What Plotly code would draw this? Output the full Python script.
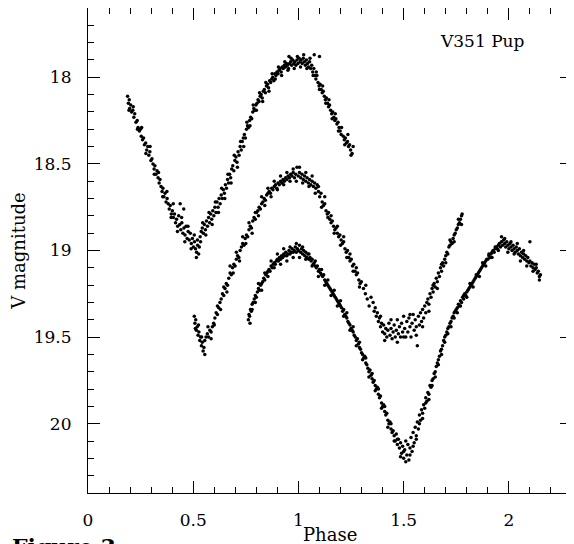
import plotly.graph_objects as go

# light curves of V351 Pup, three cycles shifted in phase and magnitude
phase_a = [0.188, 0.192, 0.196, 0.198, 0.203, 0.207, 0.213, 0.218, 0.222, 0.228, 0.234, 0.238,
           0.244, 0.249, 0.253, 0.259, 0.264, 0.268, 0.274, 0.279, 0.284, 0.289, 0.294, 0.299,
           0.304, 0.309, 0.314, 0.318, 0.323, 0.328, 0.333, 0.338, 0.342, 0.347, 0.352, 0.356,
           0.361, 0.366, 0.371, 0.376, 0.381, 0.386, 0.391, 0.396, 0.401, 0.406, 0.411, 0.416,
           0.421, 0.426, 0.431, 0.436, 0.441, 0.446, 0.451, 0.456, 0.461, 0.466, 0.471, 0.476,
           0.481, 0.486, 0.491, 0.496, 0.501, 0.506, 0.511, 0.516, 0.521, 0.526, 0.529,
           0.533, 0.538, 0.543, 0.548, 0.553, 0.558, 0.563, 0.568, 0.573, 0.578, 0.583, 0.588,
           0.593, 0.598, 0.603, 0.608, 0.613, 0.618, 0.623, 0.628, 0.633, 0.638, 0.643, 0.648,
           0.653, 0.658, 0.663, 0.668, 0.673, 0.678, 0.683, 0.688, 0.693, 0.698, 0.703, 0.708,
           0.713, 0.718, 0.723, 0.728, 0.733, 0.738, 0.743, 0.748, 0.753, 0.758, 0.763, 0.768,
           0.773, 0.778, 0.783, 0.788, 0.793, 0.798, 0.803, 0.808, 0.813, 0.818, 0.823, 0.828,
           0.833, 0.838, 0.843, 0.848, 0.853, 0.858, 0.863, 0.868, 0.873, 0.878, 0.883, 0.888,
           0.893, 0.898, 0.903, 0.908, 0.913, 0.918, 0.923, 0.928, 0.933, 0.938, 0.943, 0.948,
           0.953, 0.958, 0.963, 0.968, 0.973, 0.978, 0.983, 0.988, 0.993, 0.998, 1.003, 1.008,
           1.013, 1.018, 1.023, 1.028, 1.033, 1.038, 1.043, 1.048, 1.053, 1.058, 1.063, 1.068,
           1.073, 1.078, 1.083, 1.088, 1.093, 1.098, 1.103, 1.108, 1.113, 1.118, 1.123, 1.128,
           1.133, 1.138, 1.143, 1.148, 1.153, 1.158, 1.163, 1.168, 1.173, 1.178, 1.183, 1.188,
           1.193, 1.198, 1.203, 1.213, 1.218, 1.223, 1.228, 1.233, 1.238, 1.243, 1.248, 1.255,
           0.955, 1.075, 1.100, 0.455, 0.438]
mag_a = [18.11, 18.15, 18.13, 18.18, 18.16, 18.20, 18.19, 18.23, 18.21, 18.26, 18.25, 18.29,
         18.31, 18.30, 18.34, 18.36, 18.35, 18.39, 18.38, 18.42, 18.40, 18.45, 18.43, 18.48,
         18.47, 18.50, 18.53, 18.51, 18.56, 18.54, 18.58, 18.61, 18.59, 18.63, 18.66, 18.64,
         18.69, 18.67, 18.72, 18.70, 18.73, 18.76, 18.74, 18.79, 18.77, 18.81, 18.79, 18.84,
         18.82, 18.86, 18.80, 18.85, 18.88, 18.84, 18.90, 18.87, 18.91, 18.86, 18.93, 18.89,
         18.94, 18.90, 18.96, 18.93, 18.98, 18.95, 18.99, 19.01, 18.97, 19.02, 18.98,
         18.92, 18.89, 18.87, 18.90, 18.85, 18.88, 18.83, 18.86, 18.81, 18.84, 18.79, 18.82,
         18.77, 18.80, 18.75, 18.78, 18.72, 18.75, 18.70, 18.73, 18.68, 18.70, 18.65, 18.67,
         18.62, 18.64, 18.59, 18.61, 18.56, 18.58, 18.53, 18.51, 18.54, 18.48, 18.46, 18.49,
         18.43, 18.45, 18.40, 18.42, 18.37, 18.35, 18.33, 18.35, 18.30, 18.28, 18.29, 18.25,
         18.23, 18.24, 18.20, 18.18, 18.19, 18.16, 18.15, 18.13, 18.14, 18.11, 18.10, 18.12,
         18.08, 18.07, 18.09, 18.05, 18.04, 18.06, 18.02, 18.03, 18.01, 18.00, 18.02, 17.98,
         17.99, 17.97, 17.98, 17.96, 17.95, 17.97, 17.94, 17.95, 17.93, 17.94, 17.92, 17.93,
         17.95, 17.92, 17.91, 17.93, 17.90, 17.92, 17.91, 17.93, 17.90, 17.92, 17.89, 17.91,
         17.90, 17.92, 17.89, 17.91, 17.93, 17.90, 17.92, 17.94, 17.91, 17.95, 17.93, 17.97,
         17.95, 17.99, 18.01, 17.99, 18.03, 18.05, 18.04, 18.07, 18.09, 18.08, 18.11, 18.13,
         18.12, 18.15, 18.17, 18.16, 18.19, 18.21, 18.20, 18.23, 18.25, 18.24, 18.27, 18.26,
         18.29, 18.31, 18.33, 18.34, 18.36, 18.35, 18.38, 18.37, 18.40, 18.39, 18.42, 18.44,
         17.88, 17.87, 17.88, 18.76, 18.73]
# looser points scattered around the top curve
phase_a_spread = [0.195, 0.215, 0.235, 0.255, 0.275, 0.295, 0.315, 0.335, 0.355, 0.375, 0.395,
                  0.405, 0.425, 0.445, 0.460, 0.475, 0.490, 0.505, 0.515, 0.520, 0.535, 0.545,
                  0.560, 0.575, 0.590, 0.605, 0.620, 0.635, 0.650, 0.665, 0.680, 0.695, 0.710,
                  0.725, 0.740, 0.755, 0.770, 0.785, 0.800, 0.815, 0.830, 0.845, 0.860, 0.875,
                  0.890, 0.905, 0.920, 0.935, 0.950, 0.965, 0.980, 0.995, 1.010, 1.025, 1.040,
                  1.055, 1.070, 1.085, 1.100, 1.115, 1.130, 1.145, 1.160, 1.175, 1.190, 1.205,
                  1.220, 1.235, 1.250, 1.260]
mag_a_spread = [18.19, 18.17, 18.30, 18.29, 18.44, 18.40, 18.56, 18.55, 18.69, 18.66, 18.81,
                18.73, 18.89, 18.81, 18.95, 18.86, 18.99, 18.91, 19.04, 18.94, 18.95, 18.84,
                18.91, 18.78, 18.85, 18.72, 18.78, 18.64, 18.70, 18.56, 18.61, 18.45, 18.52,
                18.37, 18.40, 18.26, 18.28, 18.16, 18.19, 18.09, 18.14, 18.03, 18.08, 17.98,
                18.01, 17.94, 17.99, 17.91, 17.96, 17.89, 17.95, 17.88, 17.94, 17.87, 17.95,
                17.89, 17.99, 17.97, 18.07, 18.05, 18.15, 18.13, 18.24, 18.21, 18.31, 18.29,
                18.39, 18.33, 18.45, 18.40]

phase_b = [0.505, 0.508, 0.512, 0.515, 0.519, 0.523, 0.527, 0.531, 0.535, 0.539, 0.543, 0.547,
           0.551, 0.555, 0.561, 0.567, 0.573, 0.579, 0.585, 0.591, 0.597, 0.603, 0.609, 0.615,
           0.621, 0.627, 0.633, 0.639, 0.645, 0.651, 0.657, 0.663, 0.669, 0.675, 0.681, 0.687,
           0.693, 0.699, 0.705, 0.711, 0.717, 0.723, 0.729, 0.735, 0.741, 0.747, 0.753, 0.759,
           0.765, 0.771, 0.777, 0.783, 0.789, 0.795, 0.801, 0.807, 0.813, 0.819, 0.825, 0.831,
           0.837, 0.843, 0.849, 0.855, 0.861, 0.867, 0.873, 0.879, 0.885, 0.891, 0.897, 0.903,
           0.909, 0.915, 0.921, 0.927, 0.933, 0.939, 0.945, 0.951, 0.957, 0.963, 0.969, 0.975,
           0.981, 0.987, 0.993, 0.999, 1.005, 1.011, 1.017, 1.023, 1.029, 1.035, 1.041, 1.047,
           1.053, 1.059, 1.065, 1.071, 1.077, 1.083, 1.089, 1.095, 1.101, 1.107, 1.113, 1.119,
           1.125, 1.131, 1.137, 1.143, 1.149, 1.155, 1.161, 1.167, 1.173, 1.179, 1.185, 1.191,
           1.197, 1.203, 1.209, 1.215, 1.221, 1.227, 1.233, 1.239, 1.245, 1.251, 1.257, 1.263,
           1.269, 1.275, 1.281, 1.287, 1.293, 1.299, 1.309, 1.318, 1.327, 1.336,
           1.355, 1.360, 1.365, 1.370, 1.375, 1.380, 1.385, 1.390, 1.395, 1.400, 1.405, 1.410,
           1.415, 1.420, 1.425, 1.430, 1.435, 1.440, 1.445, 1.450, 1.455, 1.460, 1.465, 1.470,
           1.475, 1.480, 1.485, 1.490, 1.495, 1.500, 1.505, 1.510, 1.515, 1.520, 1.525, 1.530,
           1.535, 1.540, 1.545, 1.550, 1.555, 1.560, 1.565, 1.570, 1.575, 1.580, 1.585, 1.590,
           1.595, 1.600, 1.605, 1.610, 1.615, 1.620, 1.625, 1.630, 1.635, 1.640, 1.645, 1.650,
           1.655, 1.660, 1.665, 1.670, 1.675, 1.680, 1.685, 1.690, 1.695, 1.700, 1.705, 1.710,
           1.715, 1.720, 1.725, 1.730, 1.735, 1.740, 1.745, 1.750, 1.755, 1.760, 1.765, 1.770,
           1.775, 1.778]
mag_b = [19.38, 19.42, 19.40, 19.46, 19.44, 19.49, 19.47, 19.52, 19.50, 19.55, 19.53, 19.58,
         19.56, 19.52, 19.50, 19.48, 19.50, 19.46, 19.47, 19.44, 19.42, 19.39, 19.36, 19.37,
         19.33, 19.30, 19.28, 19.25, 19.26, 19.22, 19.19, 19.20, 19.16, 19.13, 19.14, 19.10,
         19.08, 19.09, 19.05, 19.03, 19.04, 19.00, 18.98, 18.96, 18.97, 18.93, 18.91, 18.92,
         18.88, 18.86, 18.87, 18.83, 18.81, 18.82, 18.78, 18.77, 18.75, 18.76, 18.73, 18.72,
         18.70, 18.71, 18.68, 18.67, 18.66, 18.67, 18.64, 18.65, 18.63, 18.62, 18.64, 18.61,
         18.62, 18.60, 18.61, 18.59, 18.60, 18.58, 18.59, 18.57, 18.58, 18.56, 18.57, 18.55,
         18.58, 18.56, 18.52, 18.57, 18.55, 18.58, 18.56, 18.59, 18.57, 18.60, 18.58, 18.61,
         18.59, 18.62, 18.60, 18.63, 18.61, 18.64, 18.62, 18.66, 18.69, 18.67, 18.72, 18.74,
         18.73, 18.77, 18.79, 18.78, 18.82, 18.84, 18.83, 18.86, 18.88, 18.87, 18.90, 18.92,
         18.91, 18.94, 18.96, 18.95, 18.99, 19.01, 19.00, 19.04, 19.06, 19.05, 19.09, 19.08,
         19.12, 19.14, 19.13, 19.17, 19.19, 19.18, 19.22, 19.25, 19.28, 19.32,
         19.30, 19.35, 19.33, 19.38, 19.36, 19.41, 19.39, 19.44, 19.42, 19.47, 19.43, 19.48,
         19.45, 19.50, 19.46, 19.42, 19.49, 19.45, 19.51, 19.47, 19.43, 19.50, 19.46, 19.40,
         19.48, 19.44, 19.50, 19.42, 19.47, 19.38, 19.45, 19.50, 19.41, 19.47, 19.39, 19.44,
         19.50, 19.42, 19.37, 19.46, 19.40, 19.44, 19.55, 19.38, 19.43, 19.36, 19.41, 19.34,
         19.39, 19.32, 19.36, 19.30, 19.28, 19.31, 19.25, 19.27, 19.22, 19.24, 19.19, 19.21,
         19.16, 19.18, 19.13, 19.15, 19.10, 19.12, 19.07, 19.09, 19.05, 19.03, 19.01, 19.02,
         18.98, 18.97, 18.95, 18.96, 18.93, 18.91, 18.90, 18.88, 18.87, 18.85, 18.84, 18.82,
         18.80, 18.79]
phase_b_spread = [0.510, 0.525, 0.540, 0.555, 0.570, 0.585, 0.600, 0.615, 0.630, 0.645, 0.660,
                  0.675, 0.690, 0.705, 0.720, 0.735, 0.750, 0.765, 0.780, 0.795, 0.810, 0.825,
                  0.840, 0.855, 0.870, 0.885, 0.900, 0.915, 0.930, 0.945, 0.960, 0.975, 0.990,
                  1.005, 1.020, 1.035, 1.050, 1.065, 1.080, 1.095, 1.110, 1.125, 1.140, 1.155,
                  1.170, 1.185, 1.200, 1.215, 1.230, 1.245, 1.260, 1.275, 1.290, 1.320, 1.345,
                  1.390, 1.410, 1.440, 1.470, 1.500, 1.530, 1.560, 1.590, 1.620, 1.640, 1.660,
                  1.680, 1.700, 1.720, 1.740, 1.760, 1.775]
mag_b_spread = [19.45, 19.43, 19.50, 19.60, 19.44, 19.51, 19.43, 19.32, 19.34, 19.21, 19.24,
                19.09, 19.13, 19.01, 19.06, 18.92, 18.96, 18.84, 18.90, 18.78, 18.80, 18.69,
                18.74, 18.64, 18.69, 18.60, 18.65, 18.57, 18.62, 18.55, 18.60, 18.53, 18.60,
                18.52, 18.61, 18.55, 18.63, 18.57, 18.67, 18.63, 18.75, 18.69, 18.81, 18.80,
                18.90, 18.86, 18.97, 18.92, 19.04, 19.02, 19.12, 19.10, 19.21, 19.20, 19.27,
                19.38, 19.52, 19.40, 19.53, 19.50, 19.37, 19.49, 19.44, 19.35, 19.20, 19.22,
                19.08, 19.07, 18.94, 18.95, 18.82, 18.85]

phase_c = [0.762, 0.765, 0.768, 0.772, 0.776, 0.780, 0.785, 0.790, 0.795, 0.800, 0.805, 0.810,
           0.815, 0.820, 0.825, 0.830, 0.835, 0.840, 0.845, 0.850, 0.855, 0.860, 0.865, 0.870,
           0.875, 0.880, 0.885, 0.890, 0.895, 0.900, 0.905, 0.910, 0.915, 0.920, 0.925, 0.930,
           0.935, 0.940, 0.945, 0.950, 0.955, 0.960, 0.965, 0.970, 0.975, 0.980, 0.985, 0.990,
           0.995, 1.000, 1.005, 1.010, 1.015, 1.020, 1.025, 1.030, 1.035, 1.040, 1.045, 1.050,
           1.055, 1.060, 1.065, 1.070, 1.075, 1.080, 1.085, 1.090, 1.095, 1.100, 1.105, 1.110,
           1.115, 1.120, 1.125, 1.130, 1.135, 1.140, 1.145, 1.150, 1.155, 1.160, 1.165, 1.170,
           1.175, 1.180, 1.185, 1.190, 1.195, 1.200, 1.205, 1.210, 1.215, 1.220, 1.225, 1.230,
           1.235, 1.240, 1.245, 1.250, 1.255, 1.260, 1.265, 1.270, 1.275, 1.280, 1.285, 1.290,
           1.295, 1.300, 1.305, 1.310, 1.315, 1.320, 1.325, 1.330, 1.335, 1.340, 1.345, 1.350,
           1.355, 1.360, 1.365, 1.370, 1.375, 1.380, 1.385, 1.390, 1.395, 1.400, 1.405, 1.410,
           1.415, 1.420, 1.425, 1.430, 1.435, 1.440, 1.445, 1.450, 1.455, 1.460, 1.465, 1.470,
           1.475, 1.480, 1.485, 1.490, 1.495, 1.500, 1.505, 1.510, 1.515, 1.520, 1.525, 1.530,
           1.535, 1.540, 1.545, 1.550, 1.555, 1.560, 1.565, 1.570, 1.575, 1.580, 1.585, 1.590,
           1.595, 1.600, 1.605, 1.610, 1.615, 1.620, 1.625, 1.630, 1.635, 1.640, 1.645, 1.650,
           1.655, 1.660, 1.665, 1.670, 1.675, 1.680, 1.685, 1.690, 1.695, 1.700, 1.705, 1.710,
           1.715, 1.720, 1.725, 1.730, 1.735, 1.740, 1.745, 1.750, 1.755, 1.760, 1.765, 1.770,
           1.775, 1.780, 1.785, 1.790, 1.795, 1.800, 1.805, 1.810, 1.815, 1.820, 1.825, 1.830,
           1.835, 1.840, 1.845, 1.850, 1.855, 1.860, 1.865, 1.870, 1.875, 1.880, 1.885, 1.890,
           1.895, 1.900, 1.905, 1.910, 1.915, 1.920, 1.925, 1.930, 1.935, 1.940, 1.945, 1.950,
           1.955, 1.960, 1.965, 1.970, 1.975, 1.980, 1.985, 1.990, 1.995, 2.000, 2.005, 2.010,
           2.015, 2.020, 2.025, 2.030, 2.035, 2.040, 2.045, 2.050, 2.055, 2.060, 2.065, 2.070,
           2.075, 2.080, 2.085, 2.090, 2.095, 2.100, 2.105, 2.110, 2.115, 2.120, 2.125, 2.130,
           2.135, 2.140, 2.145, 2.150]
mag_c = [19.40, 19.37, 19.38, 19.34, 19.35, 19.31, 19.30, 19.28, 19.26, 19.27, 19.24, 19.22,
         19.23, 19.20, 19.19, 19.18, 19.16, 19.17, 19.14, 19.13, 19.12, 19.11, 19.12, 19.09,
         19.10, 19.08, 19.07, 19.08, 19.06, 19.05, 19.06, 19.04, 19.05, 19.03, 19.04, 19.02,
         19.03, 19.01, 19.03, 19.02, 19.00, 19.02, 19.01, 18.99, 19.01, 19.00, 18.98, 19.01,
         18.99, 19.00, 18.97, 19.01, 18.99, 19.02, 19.00, 19.03, 19.01, 19.04, 19.02, 19.05,
         19.04, 19.06, 19.05, 19.08, 19.07, 19.09, 19.10, 19.09, 19.12, 19.11, 19.13, 19.14,
         19.15, 19.14, 19.17, 19.18, 19.19, 19.20, 19.21, 19.22, 19.23, 19.24, 19.25, 19.26,
         19.27, 19.28, 19.29, 19.30, 19.31, 19.32, 19.33, 19.35, 19.34, 19.37, 19.38, 19.39,
         19.41, 19.42, 19.43, 19.45, 19.46, 19.47, 19.49, 19.50, 19.52, 19.51, 19.54, 19.56,
         19.57, 19.59, 19.60, 19.62, 19.61, 19.65, 19.66, 19.68, 19.70, 19.69, 19.72, 19.74,
         19.76, 19.75, 19.78, 19.80, 19.79, 19.83, 19.85, 19.84, 19.88, 19.90, 19.89, 19.93,
         19.95, 19.94, 19.98, 20.00, 19.99, 20.03, 20.05, 20.04, 20.07, 20.10, 20.06, 20.12,
         20.09, 20.14, 20.11, 20.17, 20.13, 20.20, 20.15, 20.10, 20.18, 20.12, 20.21, 20.14,
         20.08, 20.16, 20.05, 20.11, 20.02, 20.07, 19.99, 20.03, 19.95, 19.98, 19.92, 19.94,
         19.89, 19.91, 19.85, 19.87, 19.82, 19.83, 19.78, 19.79, 19.75, 19.74, 19.71, 19.70,
         19.67, 19.65, 19.63, 19.61, 19.58, 19.57, 19.55, 19.52, 19.50, 19.49, 19.47, 19.45,
         19.44, 19.42, 19.41, 19.39, 19.38, 19.36, 19.35, 19.34, 19.33, 19.31, 19.32, 19.29,
         19.30, 19.27, 19.28, 19.25, 19.26, 19.24, 19.23, 19.22, 19.21, 19.20, 19.19, 19.18,
         19.17, 19.16, 19.15, 19.14, 19.13, 19.12, 19.11, 19.10, 19.09, 19.08, 19.07, 19.06,
         19.05, 19.05, 19.03, 19.04, 19.02, 19.01, 19.00, 19.01, 18.99, 18.98, 18.99, 18.97,
         18.96, 18.98, 18.95, 18.97, 18.94, 18.96, 18.98, 18.95, 18.97, 18.99, 18.96, 18.98,
         19.00, 18.97, 18.99, 19.01, 18.98, 19.00, 19.02, 18.99, 19.03, 19.01, 19.04, 19.02,
         19.05, 19.03, 19.06, 19.04, 19.07, 19.06, 19.09, 19.07, 19.10, 19.08, 19.11, 19.10,
         19.13, 19.12, 19.15, 19.14]
phase_c_spread = [0.770, 0.780, 0.795, 0.810, 0.825, 0.840, 0.855, 0.870, 0.885, 0.900, 0.915,
                  0.930, 0.945, 0.960, 0.975, 0.990, 1.005, 1.020, 1.035, 1.050, 1.065, 1.080,
                  1.095, 1.110, 1.125, 1.140, 1.155, 1.170, 1.185, 1.200, 1.215, 1.230, 1.245,
                  1.260, 1.275, 1.290, 1.305, 1.320, 1.335, 1.350, 1.365, 1.380, 1.395, 1.410,
                  1.425, 1.440, 1.455, 1.470, 1.485, 1.500, 1.510, 1.530, 1.545, 1.560, 1.575,
                  1.590, 1.605, 1.620, 1.635, 1.650, 1.665, 1.680, 1.695, 1.710, 1.725, 1.740,
                  1.755, 1.770, 1.785, 1.800, 1.815, 1.830, 1.845, 1.860, 1.875, 1.890, 1.905,
                  1.920, 1.935, 1.950, 1.965, 1.980, 1.995, 2.010, 2.025, 2.040, 2.055, 2.070,
                  2.085, 2.100, 2.115, 2.130, 2.145]
mag_c_spread = [19.42, 19.34, 19.30, 19.19, 19.23, 19.13, 19.15, 19.06, 19.10, 19.02, 19.08,
                18.99, 19.06, 18.98, 19.04, 18.96, 19.04, 18.98, 19.05, 19.02, 19.09, 19.06,
                19.15, 19.11, 19.20, 19.17, 19.26, 19.23, 19.32, 19.29, 19.38, 19.36, 19.46,
                19.44, 19.55, 19.53, 19.63, 19.62, 19.73, 19.71, 19.81, 19.80, 19.91, 19.90,
                20.02, 20.00, 20.10, 20.09, 20.19, 20.16, 20.22, 20.18, 20.13, 20.09, 20.00,
                19.97, 19.88, 19.86, 19.78, 19.73, 19.66, 19.60, 19.53, 19.48, 19.44, 19.39,
                19.36, 19.32, 19.26, 19.27, 19.19, 19.21, 19.14, 19.15, 19.07, 19.09, 19.02,
                19.04, 18.98, 19.00, 18.92, 18.93, 19.01, 18.95, 19.02, 18.96, 19.06, 19.00,
                19.09, 18.95, 19.12, 19.08, 19.17]

x_ticks = [0, 0.5, 1, 1.5, 2]
x_tick_labels = ['0', '0.5', '1', '1.5', '2']
y_ticks = [18, 18.5, 19, 19.5, 20]
y_tick_labels = ['18', '18.5', '19', '19.5', '20']

serif = 'DejaVu Serif, Liberation Serif, serif'

fig = go.Figure()
curves = [(phase_a + phase_a_spread, mag_a + mag_a_spread),
          (phase_b + phase_b_spread, mag_b + mag_b_spread),
          (phase_c + phase_c_spread, mag_c + mag_c_spread)]
for ph, mg in curves:
    fig.add_trace(go.Scatter(x=ph, y=mg, mode='markers', showlegend=False,
                             marker=dict(color='black', size=3.5, line_width=0)))

axis_style = dict(showgrid=False, zeroline=False, showline=True, linecolor='black',
                  linewidth=1.2, mirror='allticks', ticks='inside', ticklen=12,
                  tickcolor='black', tickwidth=1, automargin=False,
                  minor=dict(ticks='inside', ticklen=6, dtick=0.1, tickcolor='black',
                             showgrid=False),
                  tickfont=dict(family=serif, size=17, color='black'))

# the page body keeps an 8px margin, so the figure is sized to what is left of the window
fig.update_layout(
    width=566, height=536, autosize=False,
    paper_bgcolor='white', plot_bgcolor='white',
    margin=dict(l=80, r=2, t=0, b=51),
    xaxis=dict(axis_style, range=[0, 2.3], tickvals=x_ticks, ticktext=x_tick_labels,
               ticklabelstandoff=11),
    yaxis=dict(axis_style, range=[20.4, 17.6], tickvals=y_ticks, ticktext=y_tick_labels,
               ticklabelstandoff=12,
               title=dict(text='V magnitude', font=dict(family=serif, size=18, color='black'),
                          standoff=9)),
    annotations=[
        # x axis title, placed by hand since the margin would hold it too high
        dict(text='Phase', x=0.5, y=-0.085, xref='paper', yref='paper',
             yanchor='middle', showarrow=False,
             font=dict(family=serif, size=18, color='black')),
        dict(text='V351 Pup', x=2.085, y=17.79, xref='x', yref='y', xanchor='right',
             showarrow=False, font=dict(family=serif, size=17, color='black')),
        dict(text='<b>Figure 3.</b>', x=-0.161, y=-0.08, xref='paper', yref='paper',
             xanchor='left', yanchor='top', showarrow=False,
             font=dict(family=serif, size=22, color='black')),
    ],
)

fig.write_html('out.html')
